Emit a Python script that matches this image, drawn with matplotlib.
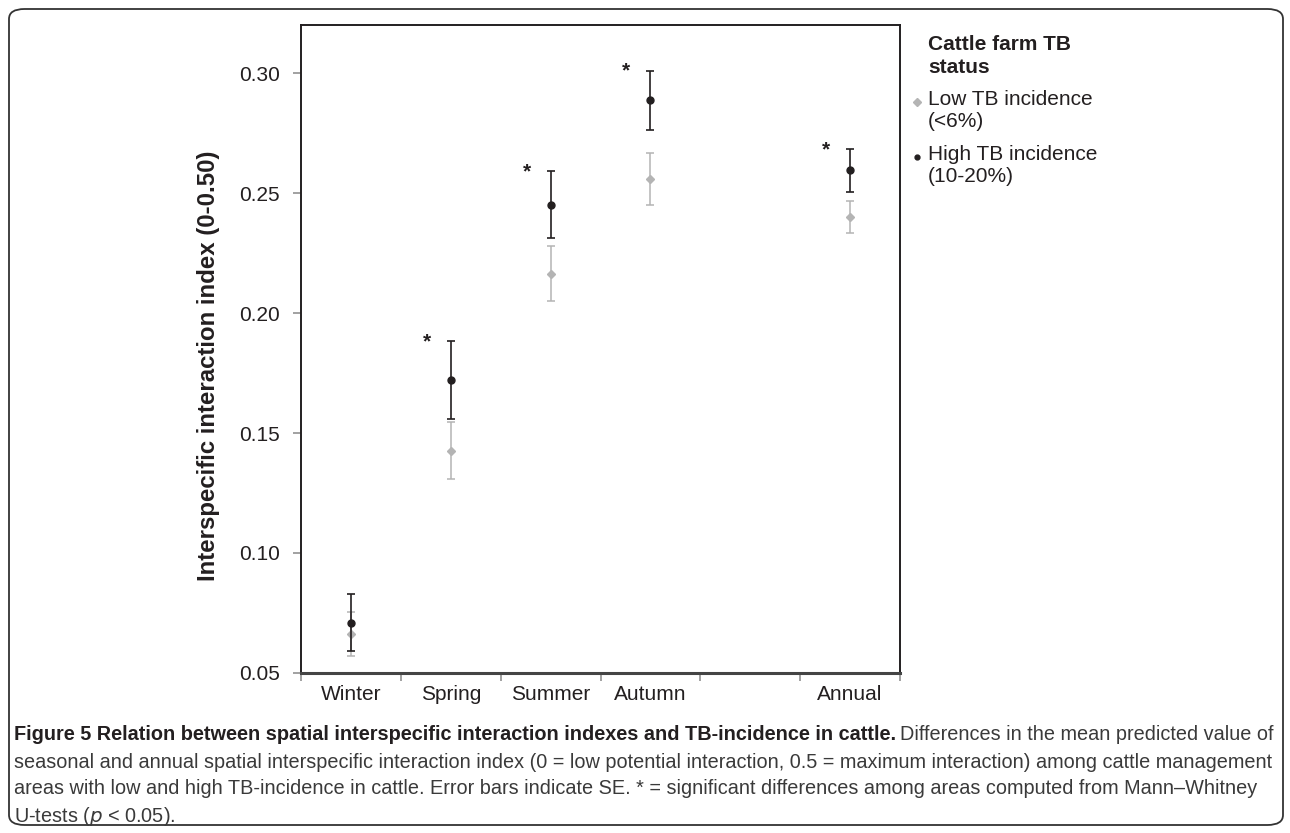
import numpy as np
import matplotlib
matplotlib.use("Agg")
import matplotlib.pyplot as plt
from matplotlib.patches import FancyBboxPatch
from matplotlib.lines import Line2D
from matplotlib.ticker import FixedLocator, NullFormatter

# -----------------------------
# Dados
# -----------------------------
categorias = ["Winter", "Spring", "Summer", "Autumn", "", "Annual"]
tem_dados = [True, True, True, True, False, True]

# High TB incidence (10-20%) - média e erro padrão
alto_media = [0.0710, 0.1720, 0.2452, 0.2887, 0.2594]
alto_se = [0.0120, 0.0162, 0.0138, 0.0123, 0.0088]

# Low TB incidence (<6%)
baixo_media = [0.0663, 0.1426, 0.2164, 0.2558, 0.2399]
baixo_se = [0.0092, 0.0118, 0.0114, 0.0109, 0.0067]

significativo = [False, True, True, True, True]

preto = "#231f20"
cinza = "#b4b4b4"

plt.rcParams["font.family"] = ["Liberation Sans", "DejaVu Sans"]

fig = plt.figure(figsize=(12.9, 8.33), dpi=100)
W, H = 1290, 833
ax = fig.add_axes([301 / W, 1 - 673 / H, 599 / W, 648 / H])

pos = np.arange(len(categorias))[np.array(tem_dados)]

ax.errorbar(pos, baixo_media, yerr=baixo_se, fmt="D", color=cinza, ecolor=cinza,
            markersize=4.5, capsize=3.2, elinewidth=1.1, capthick=1.1, zorder=2)
ax.errorbar(pos, alto_media, yerr=alto_se, fmt="o", color=preto, ecolor=preto,
            markersize=5, capsize=3.2, elinewidth=1.2, capthick=1.2, zorder=3)

# asteriscos de significância
for x, m, s, sig in zip(pos, alto_media, alto_se, significativo):
    if sig:
        ax.text(x - 0.24, m + s - 0.0025, "*", ha="center", va="baseline",
                fontsize=15, fontweight="bold", color=preto)

ax.set_xlim(-0.5, len(categorias) - 0.5)
ax.set_ylim(0.05, 0.32)
ax.set_yticks([0.05, 0.10, 0.15, 0.20, 0.25, 0.30])
ax.set_yticklabels(["0.05", "0.10", "0.15", "0.20", "0.25", "0.30"])
ax.set_xticks(np.arange(len(categorias)))
ax.set_xticklabels(categorias)
ax.xaxis.set_minor_locator(FixedLocator(np.arange(len(categorias) + 1) - 0.5))
ax.xaxis.set_minor_formatter(NullFormatter())

ax.tick_params(axis="y", direction="out", length=6, width=1.1, color="#888888",
               pad=9, labelsize=15, labelcolor=preto)
ax.tick_params(axis="x", which="major", length=0, pad=9, labelsize=15, labelcolor=preto)
ax.tick_params(axis="x", which="minor", direction="out", length=6, width=1.1,
               color="#888888")

for lado in ["left", "right", "top"]:
    ax.spines[lado].set_linewidth(1.4)
    ax.spines[lado].set_color(preto)
ax.spines["bottom"].set_linewidth(2.2)
ax.spines["bottom"].set_color("#444444")

ax.set_ylabel("Interspecific interaction index (0-0.50)", fontsize=17.3,
              fontweight="bold", color=preto)
ax.yaxis.set_label_coords(-0.135, 0.474)

# -----------------------------
# Legenda (à direita do gráfico)
# -----------------------------
fig.text(928 / W, 1 - 35 / H, "Cattle farm TB\nstatus", ha="left", va="top",
         fontsize=15, fontweight="bold", color=preto, linespacing=1.25)
fig.text(928 / W, 1 - 90 / H, "Low TB incidence\n(<6%)", ha="left", va="top",
         fontsize=15, color=preto, linespacing=1.18)
fig.text(928 / W, 1 - 145 / H, "High TB incidence\n(10-20%)", ha="left", va="top",
         fontsize=15, color=preto, linespacing=1.18)
fig.add_artist(Line2D([917 / W], [1 - 102 / H], marker="D", markersize=4,
                      color=cinza, transform=fig.transFigure))
fig.add_artist(Line2D([917 / W], [1 - 157 / H], marker="o", markersize=3.5,
                      color=preto, transform=fig.transFigure))

# -----------------------------
# Moldura arredondada
# -----------------------------
moldura = FancyBboxPatch((9 / W, 8 / H), 1274 / W, 816 / H,
                         boxstyle="round,pad=0,rounding_size=0.012",
                         transform=fig.transFigure, fill=False,
                         edgecolor="#333333", linewidth=1.3)
fig.add_artist(moldura)

# -----------------------------
# Legenda da figura (caption)
# -----------------------------
fonte_leg = ["Liberation Sans", "DejaVu Sans"]
tam = 14.3
x0 = 14 / W
t1 = fig.text(x0, 1 - 735 / H, "Figure 5 Relation between spatial interspecific interaction "
              "indexes and TB-incidence in cattle.", fontsize=tam, fontweight="bold",
              family=fonte_leg, va="center", ha="left", color=preto)
fig.canvas.draw()
bb = t1.get_window_extent()
fig.text(bb.x1 / W + 0.003, 1 - 735 / H, "Differences in the mean predicted value of",
         fontsize=tam, family=fonte_leg, va="center", ha="left", color="#3a3a3a")
linhas = [
    "seasonal and annual spatial interspecific interaction index (0 = low potential "
    "interaction, 0.5 = maximum interaction) among cattle management",
    "areas with low and high TB-incidence in cattle. Error bars indicate SE. * = significant "
    "differences among areas computed from Mann\u2013Whitney",
    "U-tests ($\\it{p}$ < 0.05).",
]
for i, linha in enumerate(linhas):
    fig.text(x0, 1 - (762 + 27 * i) / H, linha, fontsize=tam, family=fonte_leg,
             va="center", ha="left", color="#3a3a3a")

fig.savefig("out.png", dpi=100)
